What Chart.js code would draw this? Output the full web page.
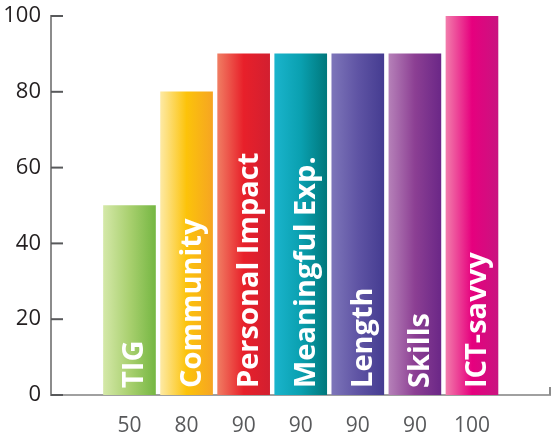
<!DOCTYPE html>
<html>
<head>
<meta charset="utf-8">
<script src="https://cdn.jsdelivr.net/npm/chart.js@4.4.0/dist/chart.umd.min.js"></script>
<style>
  html, body { margin: 0; padding: 0; background: #fff; }
  #wrap { width: 551px; height: 438px; }
</style>
</head>
<body>
<div id="wrap"><canvas id="scoreChart"></canvas></div>
<script>
// data
var categories = ['TIG', 'Community', 'Personal Impact', 'Meaningful Exp.', 'Length', 'Skills', 'ICT-savvy'];
var values = [50, 80, 90, 90, 90, 90, 100];
var yTicks = [0, 20, 40, 60, 80, 100];

// left -> middle -> right of each bar
var barColors = [
  ['#d4e8a8', '#a9d06f', '#76b743'],
  ['#fde9a3', '#fcc30a', '#f6a522'],
  ['#f07c62', '#e8202a', '#d21f30'],
  ['#1ab4cc', '#0aa0b0', '#00787c'],
  ['#7d75b9', '#5f54a4', '#453c91'],
  ['#b580b8', '#8c3f93', '#6b2787'],
  ['#f27bab', '#e6007e', '#c91480']
];

var BAR_W = 52;

function barFill(c) {
  var chart = c.chart;
  var cols = barColors[c.dataIndex] || barColors[0];
  if (!chart.chartArea || !chart.scales.x) return cols[1];
  var x = chart.scales.x.getPixelForValue(c.dataIndex);
  var g = chart.ctx.createLinearGradient(x - BAR_W / 2, 0, x + BAR_W / 2, 0);
  g.addColorStop(0, cols[0]);
  g.addColorStop(0.5, cols[1]);
  g.addColorStop(1, cols[2]);
  return g;
}

var extras = {
  id: 'extras',
  afterDatasetsDraw: function (chart) {
    var ctx = chart.ctx;
    var area = chart.chartArea;
    var meta = chart.getDatasetMeta(0);
    ctx.save();
    ctx.fillStyle = '#ffffff';
    ctx.font = 'bold 29px "Open Sans"';
    ctx.textAlign = 'left';
    ctx.textBaseline = 'alphabetic';
    meta.data.forEach(function (bar, i) {
      ctx.save();
      ctx.translate(bar.x + 14, area.bottom - 7);
      ctx.rotate(-Math.PI / 2);
      ctx.fillText(categories[i], 0, 0);
      ctx.restore();
    });
    ctx.restore();
  },
  afterDraw: function (chart) {
    var ctx = chart.ctx;
    var area = chart.chartArea;
    var y = chart.scales.y;
    ctx.save();
    ctx.strokeStyle = '#58595b';
    ctx.lineWidth = 2;
    yTicks.forEach(function (v) {
      var py = y.getPixelForValue(v);
      ctx.beginPath();
      ctx.moveTo(area.left, py);
      ctx.lineTo(area.left + 12, py);
      ctx.stroke();
    });
    ctx.strokeStyle = '#8c8c8c';
    ctx.beginPath();
    ctx.moveTo(area.right, area.bottom);
    ctx.lineTo(area.right, area.bottom - 8);
    ctx.stroke();
    ctx.restore();
  }
};

var ctx1 = document.getElementById('scoreChart');
var myBarChart = new Chart(ctx1, {
  type: 'bar',
  data: {
    datasets: [{
      data: values.map(function (v, i) { return { x: i, y: v }; }),
      backgroundColor: barFill,
      barThickness: BAR_W,
      borderWidth: 0
    }]
  },
  options: {
    responsive: true,
    maintainAspectRatio: false,
    animation: false,
    layout: {
      padding: { top: 16, right: 1, bottom: 0, left: 0 }
    },
    plugins: {
      legend: { display: false },
      tooltip: { enabled: false }
    },
    scales: {
      x: {
        type: 'linear',
        offset: false,
        min: -1.375,
        max: 7.367,
        afterFit: function (s) { s.height = 43; s.paddingLeft = 0; s.paddingRight = 0; },
        afterBuildTicks: function (s) {
          s.ticks = values.map(function (v, i) { return { value: i }; });
        },
        grid: { display: false, offset: false },
        border: { display: true, color: '#a0a0a0', width: 2 },
        ticks: {
          autoSkip: false,
          maxRotation: 0,
          padding: 10,
          color: '#58595b',
          font: { family: 'Open Sans', size: 21 },
          callback: function (val) { return values[val]; }
        }
      },
      y: {
        min: 0,
        max: 100,
        afterFit: function (s) { s.width = 51; s.paddingTop = 0; s.paddingBottom = 0; },
        grid: { display: false },
        border: { display: true, color: '#8c8c8c', width: 2 },
        ticks: {
          stepSize: 20,
          padding: 2,
          color: '#231f20',
          font: { family: 'Open Sans', size: 22 }
        }
      }
    }
  },
  plugins: [extras]
});
</script>
</body>
</html>
